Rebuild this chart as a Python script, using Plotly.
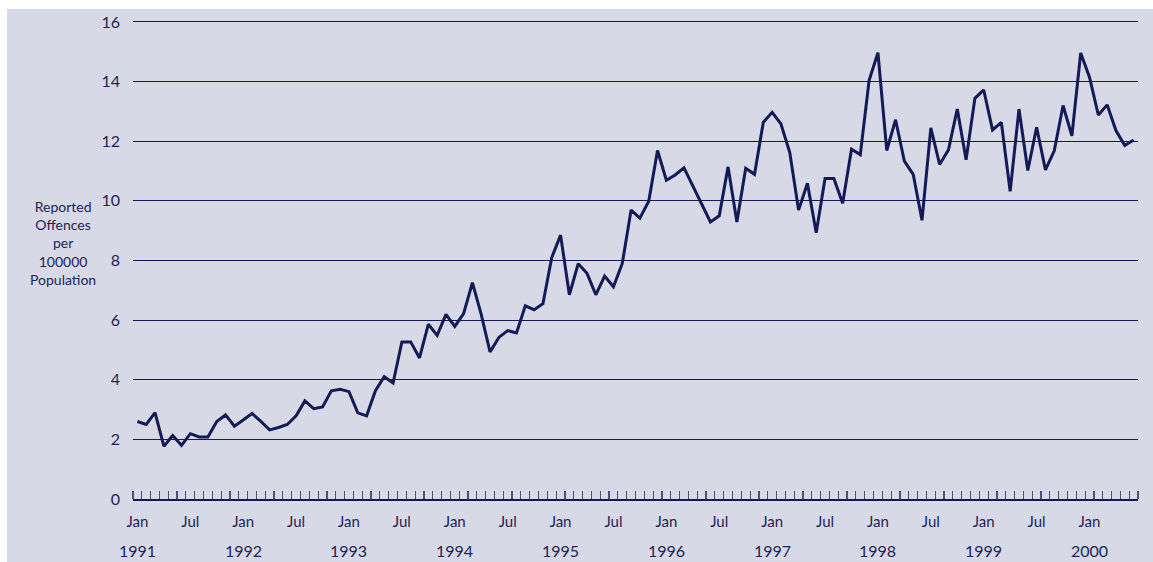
import plotly.graph_objects as go

# Monthly values, Jan 1991 .. Jun 2000
values = [
    2.6, 2.5, 2.9, 1.77, 2.13, 1.8, 2.19, 2.08, 2.08, 2.6, 2.82, 2.44,      # 1991
    2.65, 2.87, 2.6, 2.32, 2.4, 2.5, 2.79, 3.29, 3.03, 3.09, 3.63, 3.68,    # 1992
    3.6, 2.89, 2.79, 3.63, 4.1, 3.89, 5.27, 5.27, 4.73, 5.86, 5.49, 6.19,   # 1993
    5.79, 6.22, 7.26, 6.19, 4.93, 5.42, 5.65, 5.57, 6.48, 6.35, 6.55, 8.1,  # 1994
    8.85, 6.85, 7.89, 7.57, 6.85, 7.48, 7.12, 7.9, 9.69, 9.42, 9.99, 11.69, # 1995
    10.69, 10.87, 11.11, 10.5, 9.85, 9.29, 9.5, 11.14, 9.29, 11.09, 10.89, 12.64,  # 1996
    12.97, 12.58, 11.62, 9.69, 10.59, 8.93, 10.75, 10.75, 9.92, 11.73, 11.55, 14.04,  # 1997
    14.97, 11.69, 12.72, 11.33, 10.89, 9.35, 12.45, 11.22, 11.71, 13.08, 11.38, 13.44,  # 1998
    13.72, 12.38, 12.63, 10.32, 13.08, 11.02, 12.47, 11.04, 11.68, 13.2, 12.18, 14.96,  # 1999
    14.15, 12.88, 13.22, 12.36, 11.86, 12.04,                                 # 2000
]
month_idx = list(range(len(values)))

tick_pos = list(range(0, len(values), 6))
tick_text = ["Jan" if p % 12 == 0 else "Jul" for p in tick_pos]
years = [str(1991 + k) for k in range(10)]
year_pos = [12 * k for k in range(10)]
y_ticks = [0, 2, 4, 6, 8, 10, 12, 14, 16]

navy = "#141A55"
text_col = "#1E2358"
bg = "#D7D9E6"
font_family = "Lato, 'DejaVu Sans', sans-serif"

fig = go.Figure()
fig.add_trace(go.Scatter(
    x=month_idx, y=values, mode="lines",
    line=dict(color=navy, width=3),
    hoverinfo="skip", showlegend=False,
))

W, H = 1153, 562
ml, mr, mt, mb = 133, 15, 15, 63
pw, ph = W - ml - mr, H - mt - mb

annotations = []
for yp, yt in zip(year_pos, years):
    annotations.append(dict(
        x=yp, xref="x", y=0, yref="paper", yshift=-51,
        text=yt, showarrow=False, yanchor="middle", xanchor="center",
        font=dict(family=font_family, size=16, color=text_col),
    ))
annotations.append(dict(
    x=(63 - ml) / pw, xref="paper", y=(H - mb - 241) / ph, yref="paper",
    text="Reported<br>Offences<br>per<br>100000<br>Population",
    showarrow=False, xanchor="center", yanchor="middle", align="center",
    font=dict(family=font_family, size=14, color=text_col),
))

fig.update_layout(
    width=W, height=H,
    margin=dict(l=ml, r=mr, t=mt, b=mb, pad=0),
    paper_bgcolor="white",
    plot_bgcolor=bg,
    font=dict(family=font_family, color=text_col),
    shapes=[dict(
        type="rect", xref="paper", yref="paper", layer="below",
        x0=(7 - ml) / pw, x1=(W + 5 - ml) / pw,
        y0=-(mb + 5) / ph, y1=(H - mb - 5) / ph,
        fillcolor=bg, line=dict(width=0),
    )],
    annotations=annotations,
    xaxis=dict(
        range=[-0.5, len(values) - 0.5],
        tickmode="array", tickvals=tick_pos, ticktext=tick_text,
        ticks="", showgrid=False, zeroline=False,
        showline=True, linecolor=navy, linewidth=1.5,
        tickfont=dict(family=font_family, size=15, color=text_col),
        ticklabelstandoff=8,
        minor=dict(tickmode="linear", tick0=-0.5, dtick=1, ticks="inside",
                   ticklen=8, tickcolor="#4A4F7E", tickwidth=1.2, showgrid=False),
        fixedrange=True,
    ),
    yaxis=dict(
        range=[0, 16.1], tickmode="array", tickvals=y_ticks,
        showgrid=True, gridcolor=navy, gridwidth=1,
        zeroline=False, showline=False, ticks="",
        tickfont=dict(family=font_family, size=16, color=text_col),
        ticklabelstandoff=12,
        fixedrange=True,
    ),
)

fig.write_html(
    "out.html",
    config={"displayModeBar": False, "staticPlot": True},
    post_script="document.body.style.margin='0';document.body.style.overflow='hidden';",
)
